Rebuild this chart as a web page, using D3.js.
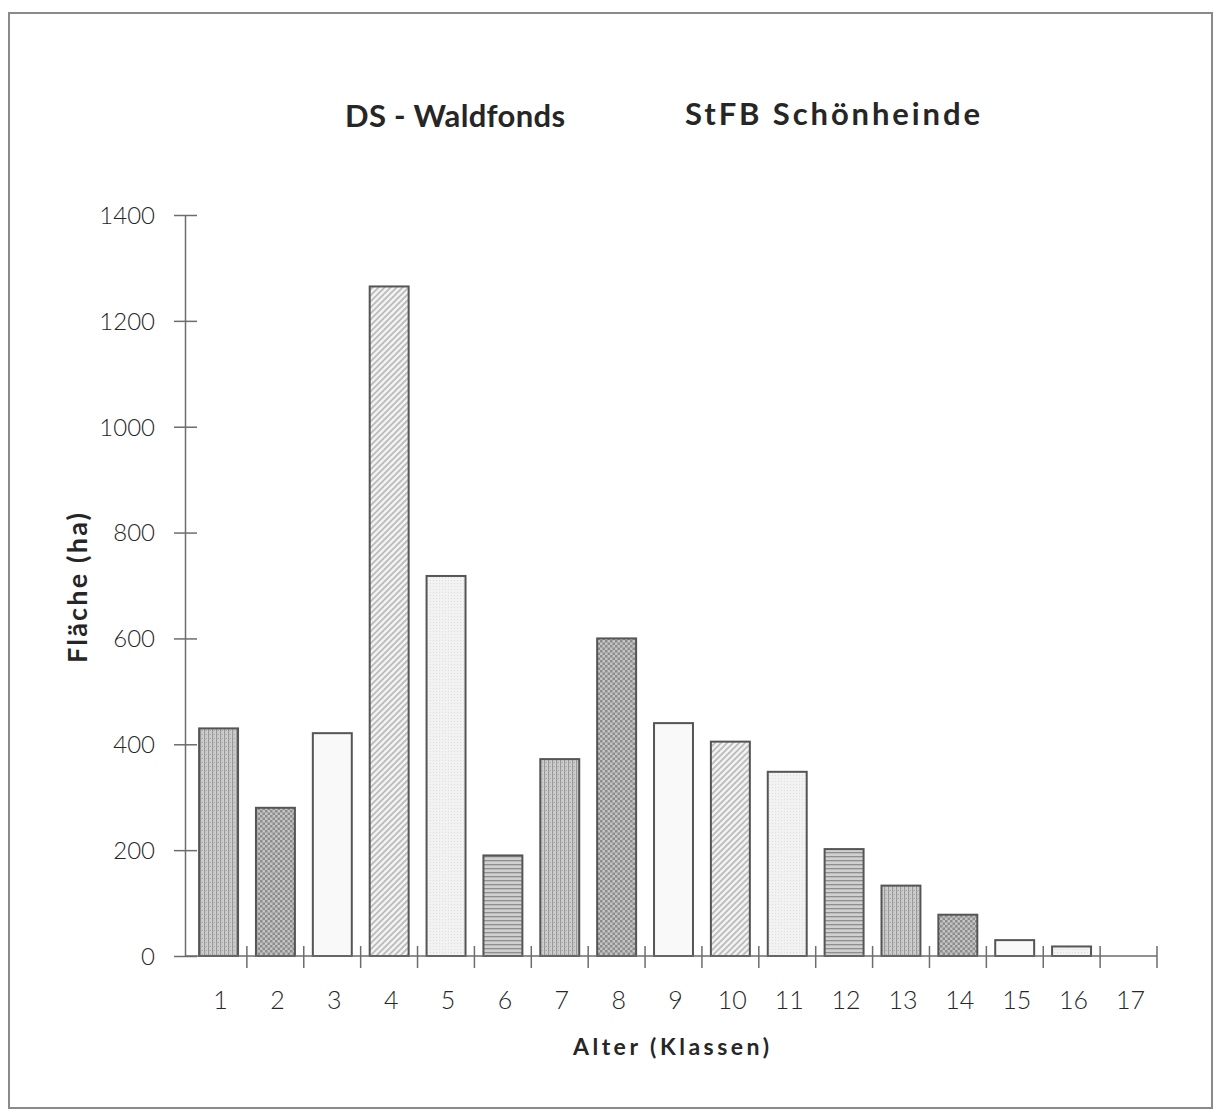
<!DOCTYPE html>
<html>
<head>
<meta charset="utf-8">
<script src="https://cdn.jsdelivr.net/npm/d3@7"></script>
<style>
  html, body { margin: 0; padding: 0; background: #fff; }
  svg { display: block; }
</style>
</head>
<body>
<svg id="chart" width="1215" height="1114"></svg>
<script>
// Altersklassen and their forest area in hectares
const classes = ["1","2","3","4","5","6","7","8","9","10","11","12","13","14","15","16","17"];
const areaHa  = [430, 280, 421, 1265, 718, 190, 372, 600, 440, 405, 348, 202, 133, 78, 30, 18, 0];
const yTicks  = [0, 200, 400, 600, 800, 1000, 1200, 1400];
const titleLeft  = "DS  - Waldfonds";
const titleRight = "StFB Schönheinde";
const yTitle = "Fläche (ha)";
const xTitle = "Alter (Klassen)";

const svg = d3.select("#chart");
const ink = "#262626";
const lineGrey = "#6d6d6d";

// Hatch / screen fills for the bars
const defs = svg.append("defs");
function pat(id, w, h, bg) {
  const p = defs.append("pattern").attr("id", id).attr("patternUnits", "userSpaceOnUse")
    .attr("width", w).attr("height", h);
  p.append("rect").attr("width", w).attr("height", h).attr("fill", bg);
  return p;
}
// vertical lines with dots
let p = pat("pVert", 4, 4, "#cdcdcd");
p.append("rect").attr("x", 0).attr("y", 0).attr("width", 1.2).attr("height", 4).attr("fill", "#9a9a9a");
p.append("rect").attr("x", 2).attr("y", 2).attr("width", 1).attr("height", 1).attr("fill", "#a5a5a5");
// checker
p = pat("pCheck", 5, 5, "#c4c4c4");
p.append("rect").attr("x", 0).attr("y", 0).attr("width", 2.5).attr("height", 2.5).attr("fill", "#8c8c8c");
p.append("rect").attr("x", 2.5).attr("y", 2.5).attr("width", 2.5).attr("height", 2.5).attr("fill", "#8c8c8c");
// near white
pat("pWhite", 4, 4, "#f9f9f9");
// diagonal hatch
p = pat("pDiag", 6, 6, "#f2f2f2");
p.append("path").attr("d", "M-1,1 l2,-2 M0,6 l6,-6 M5,7 l2,-2").attr("stroke", "#b9b9b9").attr("stroke-width", 1.6);
// light dots
p = pat("pLight", 3, 3, "#f2f2f2");
p.append("rect").attr("x", 1).attr("y", 1).attr("width", 1).attr("height", 1).attr("fill", "#dedede");
// horizontal lines
p = pat("pHoriz", 4, 4, "#d0d0d0");
p.append("rect").attr("x", 0).attr("y", 0).attr("width", 4).attr("height", 1.3).attr("fill", "#8e8e8e");
const barFills = ["pVert", "pCheck", "pWhite", "pDiag", "pLight", "pHoriz",
                  "pVert", "pCheck", "pWhite", "pDiag", "pLight", "pHoriz",
                  "pVert", "pCheck", "pWhite", "pLight", "pWhite"];

// Outer frame
svg.append("rect").attr("x", 9).attr("y", 13).attr("width", 1203).attr("height", 1095)
  .attr("fill", "none").attr("stroke", "#8a8a8a").attr("stroke-width", 2);

// Scales
const x = d3.scaleBand().domain(classes).range([190, 1157]).paddingInner(0.315).paddingOuter(0.16);
const xEdge = d3.scaleLinear().domain([0, classes.length]).range([190, 1157]);
const y = d3.scaleLinear().domain([0, 1400]).range([956, 215]);

// Bars
svg.append("g").selectAll("rect")
  .data(areaHa.map((v, i) => ({ c: classes[i], v, i })).filter(d => d.v > 0))
  .join("rect")
  .attr("x", d => x(d.c))
  .attr("y", d => y(d.v))
  .attr("width", x.bandwidth())
  .attr("height", d => y(0) - y(d.v))
  .attr("fill", d => `url(#${barFills[d.i]})`)
  .attr("stroke", "#555")
  .attr("stroke-width", 2);

// Y axis
const yAxis = svg.append("g").attr("transform", "translate(185,0)")
  .call(d3.axisLeft(y).tickValues(yTicks).tickSize(0).tickPadding(30).tickFormat(d3.format("d")));
yAxis.select(".domain").attr("stroke", lineGrey).attr("stroke-width", 1.5);
yAxis.selectAll(".tick line").attr("x1", -11).attr("x2", 12).attr("stroke", lineGrey).attr("stroke-width", 1.5);
yAxis.selectAll(".tick text").attr("fill", ink)
  .style("font-family", "Lato").style("font-weight", 300).style("font-size", "24px").attr("dy", "0.35em");

// X axis line with tick marks on class boundaries
const xg = svg.append("g");
xg.append("line").attr("x1", 185).attr("x2", 1157).attr("y1", y(0)).attr("y2", y(0))
  .attr("stroke", lineGrey).attr("stroke-width", 1.5);
xg.selectAll("line.tk").data(d3.range(1, classes.length + 1)).join("line").attr("class", "tk")
  .attr("x1", d => xEdge(d)).attr("x2", d => xEdge(d))
  .attr("y1", y(0) - 10).attr("y2", y(0) + 12)
  .attr("stroke", lineGrey).attr("stroke-width", 1.5);
xg.selectAll("text").data(classes).join("text")
  .attr("x", d => x(d) + x.bandwidth() / 2 + 2)
  .attr("y", 1009)
  .attr("text-anchor", "middle")
  .attr("fill", ink)
  .style("font-family", "Lato").style("font-weight", 300).style("font-size", "25px")
  .text(d => d);

// Titles
const bold = sel => sel.attr("fill", ink).style("font-family", "Lato").style("font-weight", 700);
svg.append("text").attr("x", 345).attr("y", 127).text(titleLeft).call(bold)
  .style("font-size", "31px").attr("textLength", 220).attr("lengthAdjust", "spacing");
svg.append("text").attr("x", 685).attr("y", 125).text(titleRight).call(bold)
  .style("font-size", "31px").attr("textLength", 295).attr("lengthAdjust", "spacing");
svg.append("text").attr("x", 573).attr("y", 1055).text(xTitle).call(bold)
  .style("font-size", "23px").attr("textLength", 196).attr("lengthAdjust", "spacing");
svg.append("text").attr("transform", "translate(87,663) rotate(-90)")
  .text(yTitle).call(bold).style("font-size", "27px")
  .attr("textLength", 150).attr("lengthAdjust", "spacing");
</script>
</body>
</html>
